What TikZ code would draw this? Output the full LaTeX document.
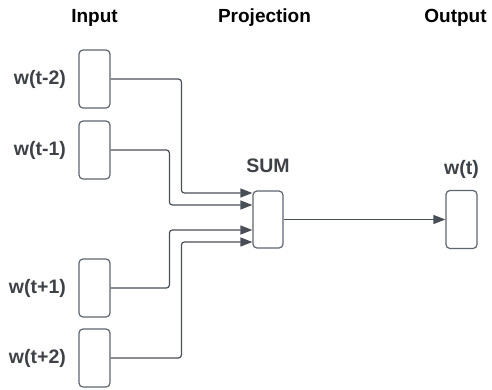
\documentclass[tikz,border=0pt]{standalone}
\usepackage{fontspec}
\setmainfont{Liberation Sans}
\usetikzlibrary{arrows.meta,positioning}
\definecolor{linegray}{HTML}{4A4F57}
\definecolor{boxgray}{HTML}{5E656E}
\definecolor{labelgray}{HTML}{3E4146}
\begin{document}
\begin{tikzpicture}[x=1pt,y=-1pt,node distance=9pt,
      word/.style={
        % the little rounded boxes
        rectangle,minimum width=31pt,minimum height=58pt,inner sep=0pt,
        rounded corners=4pt,line width=1.2pt,draw=boxgray},
      heading/.style={font=\bfseries\fontsize{19}{22}\selectfont,text=black},
      wlabel/.style={font=\bfseries\fontsize{19.5}{22}\selectfont,text=labelgray},
      flow/.style={draw=linegray,line width=1.2pt,rounded corners=3pt,
        -{Triangle[length=12pt,width=9pt]}}]
    \useasboundingbox (0,0) rectangle (492,389);
    % column titles
    \node(hin)[heading] at (94.5,18) {Input};
    \node(hproj)[heading] at (264.5,18) {Projection};
    \node(hout)[heading] at (455.5,18) {Output};
    % context words
    \node(wm2)[word] at (94.5,79) {};
    \node(wm1)[word] at (94.5,150) {};
    \node(wp1)[word] at (94.5,288) {};
    \node(wp2)[word] at (94.5,358) {};
    \node(lm2)[wlabel, left=of wm2] {w(t-2)};
    \node(lm1)[wlabel, left=of wm1] {w(t-1)};
    \node(lp1)[wlabel, left=of wp1] {w(t+1)};
    \node(lp2)[wlabel, left=of wp2] {w(t+2)};
    % projection and output
    \node(sum)[word, minimum width=30pt, minimum height=57pt] at (268,219.5) {};
    \node(out)[word] at (461.5,219.5) {};
    \node(lsum)[wlabel, above=14pt of sum] {SUM};
    \node(lout)[wlabel, above=8pt of out] {w(t)};
    % entry points on the left of SUM
    \coordinate(s1) at ([yshift=26.5pt]sum.west);
    \coordinate(s2) at ([yshift=14.5pt]sum.west);
    \coordinate(s3) at ([yshift=-10.5pt]sum.west);
    \coordinate(s4) at ([yshift=-22.5pt]sum.west);
    \draw[flow] (wm2.east) -| ([xshift=-71pt]s1) -- (s1);
    \draw[flow] (wm1.east) -| ([xshift=-83pt]s2) -- (s2);
    \draw[flow] (wp1.east) -| ([xshift=-83pt]s3) -- (s3);
    \draw[flow] (wp2.east) -| ([xshift=-71pt]s4) -- (s4);
    \draw[flow] (sum.east) -- (out.west);
  \end{tikzpicture}
\end{document}
